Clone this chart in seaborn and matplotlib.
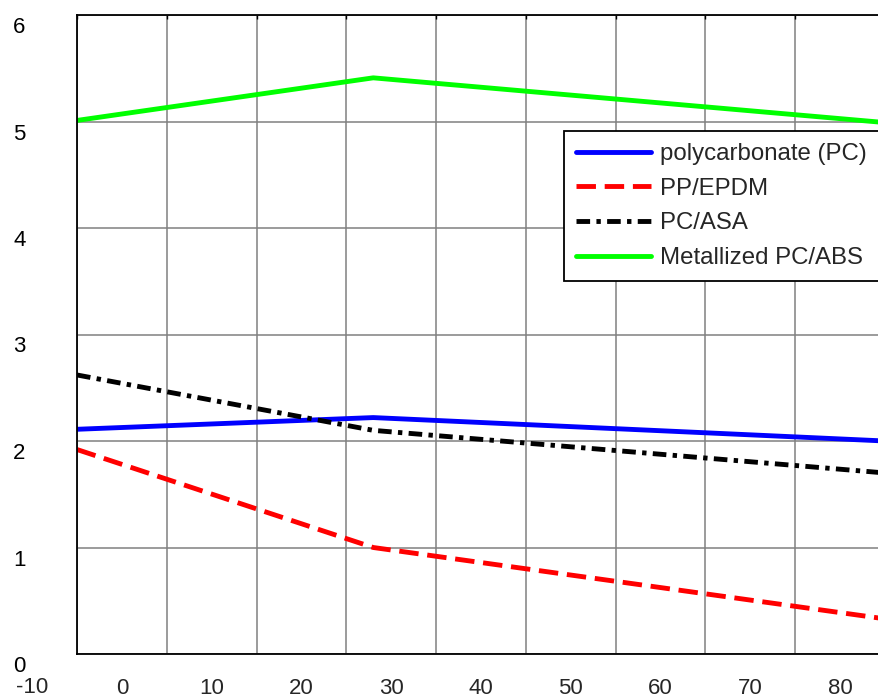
import matplotlib
matplotlib.use("Agg")
import matplotlib.pyplot as plt
import matplotlib.transforms as mtransforms
import pandas as pd
import seaborn as sns

# === values ===
X_POINTS = [-5, 28, 85]
PC = [2.11, 2.22, 2.00]
PP_EPDM = [1.92, 1.00, 0.33]
PC_ASA = [2.62, 2.10, 1.70]
MET_PC_ABS = [5.01, 5.41, 4.99]

SERIES_NAMES = ["polycarbonate (PC)", "PP/EPDM", "PC/ASA", "Metallized PC/ABS"]
X_TICK_LABELS = [0, 10, 20, 30, 40, 50, 60, 70, 80]
X_OUTSIDE_LABEL = -10
X_GRID = [-5, 5, 15, 25, 35, 45, 55, 65, 75, 85]
Y_TICKS = [0, 1, 2, 3, 4, 5, 6]

# === style ===
COLORS = {
    "polycarbonate (PC)": "#0000ff",
    "PP/EPDM": "#ff0000",
    "PC/ASA": "#000000",
    "Metallized PC/ABS": "#00ff00",
}
DASHES = {
    "polycarbonate (PC)": "",
    "PP/EPDM": (4, 1.8),
    "PC/ASA": (2.8, 1.3, 0.9, 1.3),
    "Metallized PC/ABS": "",
}

# long-form table for seaborn
rows = []
for name, vals in zip(SERIES_NAMES, [PC, PP_EPDM, PC_ASA, MET_PC_ABS]):
    for xv, yv in zip(X_POINTS, vals):
        rows.append({"x": xv, "y": yv, "material": name})
df = pd.DataFrame(rows)

sns.set_style("white")
plt.rcParams["font.family"] = ["Liberation Sans", "DejaVu Sans"]

W, H = 879, 697
fig = plt.figure(figsize=(W / 100, H / 100), dpi=100)
# axes runs past the right edge of the picture, like the cropped original
ax = fig.add_axes([77 / W, 43 / H, 808 / W, 639 / H])

sns.lineplot(data=df, x="x", y="y", hue="material", style="material",
             hue_order=SERIES_NAMES, style_order=SERIES_NAMES,
             palette=COLORS, dashes=DASHES, linewidth=3.5, ax=ax)

ax.set_xlim(-5, 85)
ax.set_ylim(0, 6)
ax.set_xlabel("")
ax.set_ylabel("")

# grid on the major ticks, labels on shifted minor ticks
ax.set_xticks(X_GRID)
ax.set_xticklabels([])
ax.set_xticks(X_TICK_LABELS, labels=[str(v) for v in X_TICK_LABELS], minor=True)
ax.set_yticks(Y_TICKS, labels=[str(v) for v in Y_TICKS])
ax.grid(True, which="major", color="#808080", linewidth=1.1)
ax.tick_params(which="major", direction="in", length=3, width=1,
               top=True, right=True, colors="black")
ax.tick_params(axis="x", which="minor", length=0, pad=17, labelsize=16)
ax.tick_params(axis="y", which="major", pad=37, labelsize=16)

offset = mtransforms.ScaledTranslation(0, -10 / 100, fig.dpi_scale_trans)
for lab in ax.get_yticklabels():
    lab.set_transform(lab.get_transform() + offset)

ax.text(X_OUTSIDE_LABEL, -0.052, str(X_OUTSIDE_LABEL),
        transform=ax.get_xaxis_transform(), ha="center", va="center",
        fontsize=16, clip_on=False)

for s in ax.spines.values():
    s.set_color("black")
    s.set_linewidth(1.3)

sns.move_legend(ax, "upper right", bbox_to_anchor=(0.9926, 0.8185),
                title=None, fontsize=17.3, frameon=True, fancybox=False,
                edgecolor="black", framealpha=1, borderaxespad=0,
                handlelength=3.1, handletextpad=0.4, labelspacing=0.53,
                borderpad=0.5)
ax.get_legend().get_frame().set_linewidth(1.3)

fig.savefig("out.png", dpi=100)
